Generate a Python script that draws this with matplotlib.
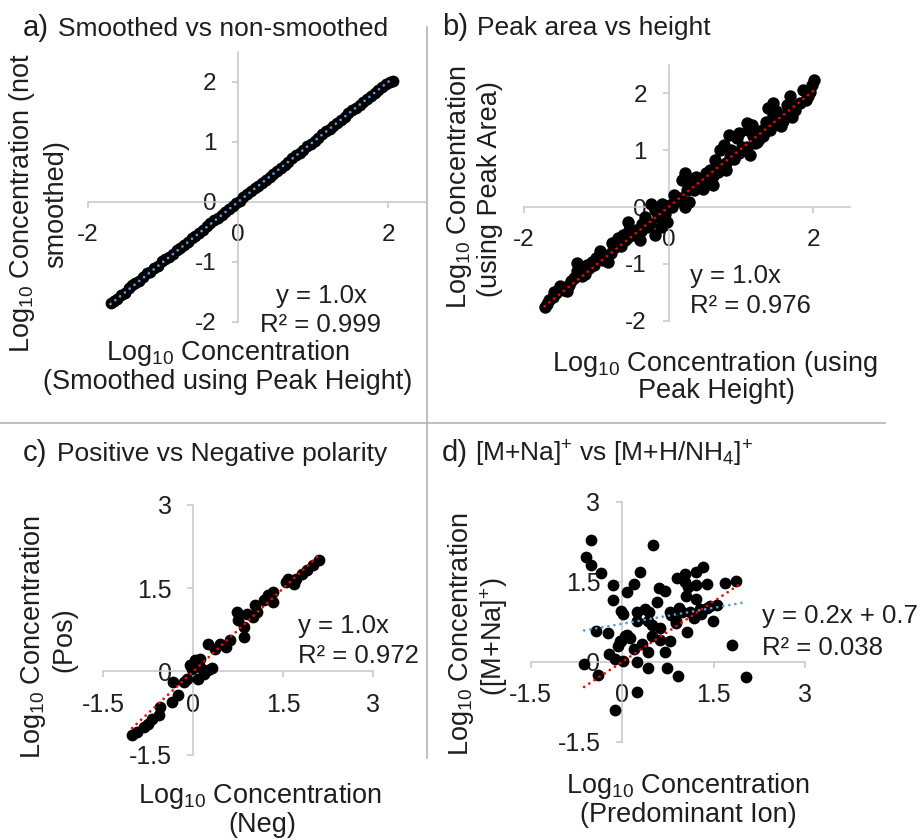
import numpy as np
import matplotlib
matplotlib.use('Agg')
import matplotlib.pyplot as plt
from matplotlib.lines import Line2D

plt.rcParams['font.family'] = ['Liberation Sans', 'DejaVu Sans']
plt.rcParams['mathtext.default'] = 'regular'
plt.rcParams['axes.unicode_minus'] = False

W, H = 922, 840

# a) smoothed vs non-smoothed
a_x = [-1.70, -1.66, -1.62, -1.56, -1.51, -1.46, -1.41, -1.37, -1.32, -1.27, -1.22, -1.17, -1.12,
       -1.07, -1.02, -0.97, -0.92, -0.87, -0.82, -0.77, -0.72, -0.67, -0.62, -0.57, -0.52, -0.47,
       -0.42, -0.37, -0.32, -0.27, -0.22, -0.17, -0.12, -0.07, -0.03, 0.02, 0.07, 0.12, 0.17, 0.22,
       0.27, 0.32, 0.37, 0.42, 0.47, 0.52, 0.57, 0.62, 0.67, 0.72, 0.77, 0.82, 0.87, 0.92, 0.97,
       1.02, 1.07, 1.12, 1.17, 1.22, 1.27, 1.32, 1.37, 1.42, 1.47, 1.52, 1.57, 1.62, 1.67, 1.72,
       1.77, 1.82, 1.87, 1.92, 1.97, 2.02, 2.06]
a_y = [-1.68, -1.65, -1.61, -1.55, -1.51, -1.44, -1.38, -1.35, -1.31, -1.25, -1.19, -1.16, -1.10,
       -1.06, -0.99, -0.95, -0.91, -0.86, -0.80, -0.76, -0.71, -0.66, -0.60, -0.56, -0.51, -0.46,
       -0.40, -0.35, -0.30, -0.26, -0.21, -0.16, -0.11, -0.07, -0.02, 0.02, 0.08, 0.13, 0.19, 0.23,
       0.27, 0.32, 0.37, 0.42, 0.47, 0.52, 0.57, 0.62, 0.67, 0.73, 0.78, 0.82, 0.87, 0.94, 0.97,
       1.01, 1.07, 1.13, 1.18, 1.22, 1.27, 1.32, 1.37, 1.42, 1.48, 1.53, 1.57, 1.62, 1.67, 1.71,
       1.77, 1.82, 1.87, 1.92, 1.97, 2.00, 2.01]

# b) peak area vs height
b_x = [-1.71, -1.65, -1.58, -1.50, -1.40, -1.37, -1.31, -1.26, -1.27, -1.19, -1.12, -1.05, -1.00,
       -0.94, -0.84, -0.80, -0.78, -0.70, -0.63, -0.56, -0.54, -0.43, -0.40, -0.36, -0.33, -0.26,
       -0.24, -0.19, -0.19, -0.15, -0.10,
       -0.09, -0.05, -0.02, 0.07, 0.16, 0.23, 0.28, 0.18, 0.23, 0.30, 0.34, 0.41, 0.48, 0.53, 0.57,
       0.62, 0.64, 0.69, 0.71, 0.76, 0.80, 0.83, 0.87, 0.92, 0.97, 1.01, 1.09, 1.10, 1.13, 1.17,
       1.22, 1.26, 1.33, 1.38, 1.45, 1.44, 1.49, 1.56, 1.63, 1.68, 1.70, 1.82, 1.86, 1.93, 1.98, 2.01,
       -1.60, -1.45, -1.20, -1.10, -0.88, -0.66, -0.60, -0.48, -0.30, 0.02, 0.12, 0.35, 0.45, 0.58,
       0.75, 0.90, 1.05, 1.20, 1.30, 1.40, 1.52, 1.60, 1.75, 1.90, 0.38, 0.52, 0.95, 1.15, 0.85, 1.35,
       -1.68, -1.55, -1.35, -1.15, -1.03, -0.98, -0.90, -0.74, -0.58, -0.45, -0.38, -0.12, 0.05,
       0.25, 0.40, 0.62, 0.68, 0.80, 0.98, 1.08, 1.25, 1.42, 1.58, 1.72, 1.95]
b_y = [-1.76, -1.63, -1.50, -1.38, -1.48, -1.37, -1.25, -0.98, -1.13, -1.10, -1.02, -0.96, -0.90,
       -0.78, -0.96, -0.81, -0.64, -0.55, -0.49, -0.26, -0.41, -0.47, -0.58, -0.29, -0.17, -0.29,
       0.06, -0.06, -0.49, -0.17, -0.35,
       0.06, -0.12, -0.27, 0.21, 0.15, 0.00, 0.09, 0.47, 0.59, 0.50, 0.38, 0.41, 0.32, 0.47, 0.65,
       0.38, 0.83, 0.74, 1.00, 1.09, 0.65, 1.27, 1.00, 0.91, 1.30, 1.06, 1.47, 1.36, 0.91, 1.24,
       1.15, 1.33, 1.39, 1.74, 1.83, 1.62, 1.68, 1.42, 1.80, 1.95, 1.59, 1.83, 2.06, 1.95, 2.15, 2.24,
       -1.58, -1.45, -1.22, -1.08, -0.86, -0.68, -0.58, -0.50, -0.35, 0.03, 0.10, 0.30, 0.45, 0.55,
       0.70, 0.85, 1.00, 1.12, 1.25, 1.35, 1.55, 1.62, 1.70, 1.88, 0.52, 0.60, 1.22, 1.45, 0.88, 1.50,
       -1.70, -1.52, -1.30, -1.18, -1.02, -0.92, -0.93, -0.70, -0.55, -0.40, -0.42, -0.08, 0.00,
       0.30, 0.35, 0.55, 0.62, 0.78, 0.95, 1.05, 1.20, 1.40, 1.52, 1.75, 2.02]

# c) positive vs negative polarity
c_x = [2.10, 1.99, 1.89, 1.81, 1.71, 1.58, 1.54, 1.67, 1.33, 1.25, 1.33, 1.17, 1.03, 1.06, 1.00,
       0.89, 0.72, 0.75, 0.84, 0.84, 0.61, 0.54, 0.44, 0.25, 0.36, 0.11, 0.03, -0.06, -0.03, 0.11,
       0.25, 0.31, 0.17, 0.07, -0.11, -0.16, -0.34, -0.25, -0.36, -0.56, -0.58, -0.69, -0.75, -0.83,
       -0.94, -1.02]
c_y = [2.00, 1.92, 1.82, 1.76, 1.67, 1.67, 1.61, 1.58, 1.43, 1.37, 1.25, 1.28, 1.20, 1.07, 0.98,
       1.04, 1.08, 0.92, 0.80, 0.62, 0.56, 0.44, 0.50, 0.50, 0.41, 0.23, 0.20, 0.12, 0.05, 0.08,
       0.02, 0.06, -0.04, -0.13, -0.13, -0.19, -0.19, -0.43, -0.55, -0.64, -0.79, -0.85, -0.94, -1.00,
       -1.09, -1.15]

# d) [M+Na]+ vs [M+H/NH4]+
d_x = [-0.51, 0.50, -0.59, -0.51, -0.35, 0.30, -0.15, 0.19, 0.09, -0.15, 0.61, 0.70, 0.58, -0.01,
       0.02, 0.37, 0.45, 0.24, 0.42, 0.90, 1.03, 1.03, 1.09, 1.21, 1.21, 1.32, 1.39, 1.05, 1.22, 0.94,
       0.81, 1.11, 1.28, 1.44, 1.55, 1.49, 1.69, 1.87, 1.80, 2.04, 1.06, 0.89, 0.62, 0.49, 0.62, 0.79,
       0.32, 0.19, 0.43, 0.70, 0.05, -0.04, 0.13, -0.06, -0.23, -0.43, -0.22, -0.11, 0.02, 0.24, 0.42,
       0.73, 0.92, -0.39, -0.62, 0.24, -0.11, 0.79, 0.99, 0.89, 1.18, 1.30, 1.39, 0.49, 0.24, -0.01, 0.08]
d_y = [2.28, 2.18, 1.96, 1.81, 1.66, 1.69, 1.43, 1.46, 1.31, 1.16, 1.39, 1.32, 1.12, 0.96, 0.89, 0.99,
       0.93, 0.77, 0.76, 1.57, 1.64, 1.49, 1.41, 1.43, 1.69, 1.77, 1.46, 1.23, 1.18, 1.01, 0.87, 0.94,
       0.98, 1.04, 1.07, 0.76, 1.48, 1.52, 0.31, -0.29, 0.56, 0.73, 0.63, 0.49, 0.41, 0.38, 0.33, 0.24,
       0.18, 0.19, 0.48, 0.39, 0.44, 0.29, 0.54, 0.58, 0.14, 0.06, 0.02, -0.01, -0.11, -0.11, -0.26,
       -0.24, -0.04, -0.57, -0.90, 0.93, 0.93, 0.77, 0.82, 0.89, 1.01, 0.69, 0.94, 0.38, 0.51]

# trendlines (slope, intercept)
fit_a = (1.0, 0.0)
fit_b = (1.02, 0.0)
fit_c = (1.0, 0.0)
fit_d = (0.2, 0.71)
ref_d = (0.755, -0.005)
ref_d_xmax = 1.98

ticks_ab = [-2, 0, 2]
yticks_ab = [-2, -1, 0, 1, 2]
ticks_cd = [-1.5, 0, 1.5, 3]

BLUE = '#5b9bd5'
RED = '#ff0000'
AXC = '#c6c6c6'
TXT = '#1e1e1e'


def fx(x):
    return x / W


def fy(y):
    return 1 - y / H


def make_ax(l, t, r, b, xlim, ylim, xt, yt, fs):
    ax = fig.add_axes([fx(l), fy(b), (r - l) / W, (b - t) / H])
    ax.set_facecolor('none')
    ax.set_xlim(*xlim)
    ax.set_ylim(*ylim)
    for s in ['top', 'right']:
        ax.spines[s].set_visible(False)
    for s in ['left', 'bottom']:
        ax.spines[s].set_position(('data', 0))
        ax.spines[s].set_color(AXC)
        ax.spines[s].set_linewidth(1.1)
    ax.set_xticks(xt)
    ax.set_yticks(yt)
    ax.set_xticklabels(['%g' % v for v in xt])
    ax.set_yticklabels(['%g' % v for v in yt])
    ax.tick_params(direction='out', length=4.5, width=1.1, color=AXC,
                   labelsize=fs, labelcolor=TXT, pad=11)
    return ax


def dotted(ax, x0, x1, fit, color):
    xs = np.array([x0, x1])
    ax.plot(xs, fit[0] * xs + fit[1], color=color, lw=2.0,
            linestyle=(0, (0.01, 2.2)), dash_capstyle='round', zorder=4)


fig = plt.figure(figsize=(W / 100, H / 100), dpi=100)

MS = 72

# panel a
ax = make_ax(88, 52, 425.5, 322, (-2, 2.5), (-2, 2.5), ticks_ab, yticks_ab, 17.5)
ax.scatter(a_x, a_y, s=MS, color='black', zorder=3, linewidths=0)
dotted(ax, min(a_x), max(a_x), fit_a, BLUE)

# panel b
ax = make_ax(523.7, 64.8, 849.5, 320.8, (-2, 2.5), (-2, 2.5), ticks_ab, yticks_ab, 17.5)
ax.scatter(b_x, b_y, s=MS + 8, color='black', zorder=3, linewidths=0)
dotted(ax, min(b_x), max(b_x), fit_b, RED)

# panel c
ax = make_ax(103.3, 505, 373.3, 754.7, (-1.5, 3), (-1.5, 3), ticks_cd, ticks_cd, 18)
ax.scatter(c_x, c_y, s=MS, color='black', zorder=3, linewidths=0)
dotted(ax, min(c_x), max(c_x), fit_c, RED)

# panel d
ax = make_ax(530.5, 501.7, 805, 741.7, (-1.5, 3), (-1.5, 3), ticks_cd, ticks_cd, 18)
ax.scatter(d_x, d_y, s=MS, color='black', zorder=3, linewidths=0)
dotted(ax, min(d_x), ref_d_xmax, ref_d, RED)
dotted(ax, min(d_x), max(d_x), fit_d, BLUE)

# separators
fig.add_artist(Line2D([fx(427), fx(427)], [fy(27), fy(758)], color='#b4b4b4', lw=1.2))
fig.add_artist(Line2D([fx(0), fx(885)], [fy(423), fy(423)], color='#b4b4b4', lw=1.2))

# titles
TFS = 19
LFS = 19.5
EFS = 18.5
titles = [
    (23, 36, 'a)', 58, 'Smoothed vs non-smoothed'),
    (442, 35, 'b)', 477, 'Peak area vs height'),
    (23, 461, 'c)', 57, 'Positive vs Negative polarity'),
    (442, 461, 'd)', 475, r'[M+Na]$^{+}$ vs [M+H/NH$_{4}$]$^{+}$'),
]
for lx, by, lab, tx, txt in titles:
    fig.text(fx(lx), fy(by), lab, fontsize=21, color=TXT, va='baseline')
    fig.text(fx(tx), fy(by), txt, fontsize=TFS, color=TXT, va='baseline')

LOG = r'Log$_{10}$ Concentration'

# x axis labels (center x, baseline y)
xlabels = [
    (228, 360, LOG), (228, 389, '(Smoothed using Peak Height)'),
    (715, 371, LOG + ' (using'), (716, 398, 'Peak Height)'),
    (260, 803, LOG), (262, 832, '(Neg)'),
    (688, 793, LOG), (688, 822, '(Predominant Ion)'),
]
for x, y, t in xlabels:
    fig.text(fx(x), fy(y), t, fontsize=LFS, color=TXT, ha='center', va='baseline')

# y axis labels (baseline x, center y)
ylabels = [
    (29, 203, LOG + ' (not'), (63, 204, 'smoothed)'),
    (466, 187, LOG), (497, 189, '(using Peak Area)'),
    (40, 637, LOG), (71, 640, '(Pos)'),
    (468, 634, LOG), (502, 637, r'([M+Na]$^{+}$)'),
]
for x, y, t in ylabels:
    fig.text(fx(x), fy(y), t, fontsize=LFS, color=TXT, ha='center', va='baseline',
             rotation=90, rotation_mode='anchor')

# equations
fig.text(fx(321), fy(303), 'y = 1.0x', fontsize=EFS, color=TXT, ha='center', va='baseline')
fig.text(fx(321), fy(332), 'R² = 0.999', fontsize=EFS, color=TXT, ha='center', va='baseline')
fig.text(fx(690), fy(283), 'y = 1.0x', fontsize=EFS, color=TXT, va='baseline')
fig.text(fx(690), fy(313), 'R² = 0.976', fontsize=EFS, color=TXT, va='baseline')
fig.text(fx(298), fy(633), 'y = 1.0x', fontsize=EFS, color=TXT, va='baseline')
fig.text(fx(298), fy(663), 'R² = 0.972', fontsize=EFS, color=TXT, va='baseline')
fig.text(fx(762), fy(623), 'y = 0.2x + 0.7', fontsize=EFS, color=TXT, va='baseline')
fig.text(fx(762), fy(655), 'R² = 0.038', fontsize=EFS, color=TXT, va='baseline')

fig.savefig('out.png', dpi=100)
